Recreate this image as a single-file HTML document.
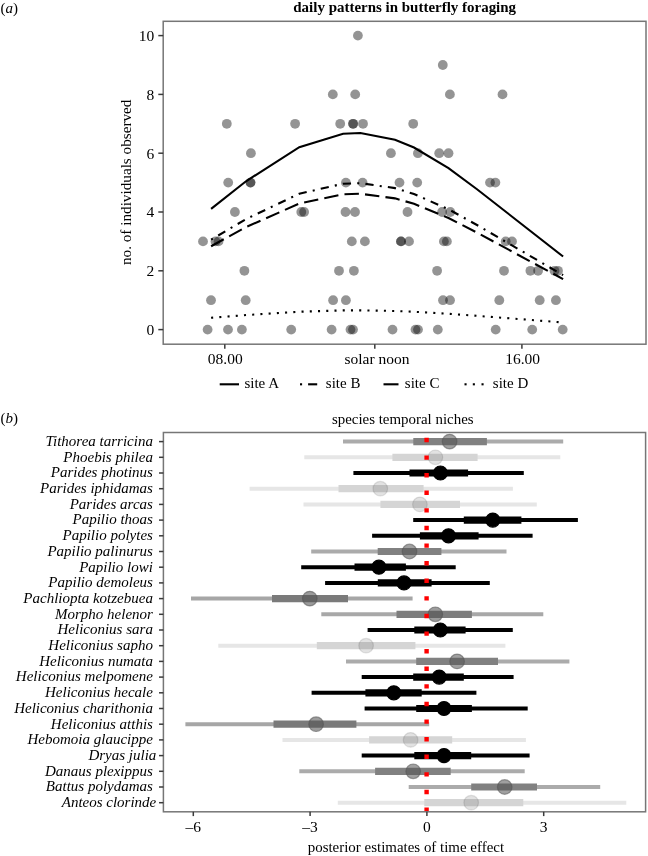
<!DOCTYPE html>
<html><head><meta charset="utf-8"><style>
html,body{margin:0;padding:0;background:#fff;}
svg{display:block;will-change:transform;}
text{font-family:"Liberation Serif",serif;}
</style></head><body>
<svg width="648" height="856" viewBox="0 0 648 856">
<rect x="0" y="0" width="648" height="856" fill="#fff"/>
<text x="293.3" y="12" font-family="Liberation Serif, serif" font-size="15" font-weight="bold" textLength="222.8" lengthAdjust="spacingAndGlyphs">daily patterns in butterfly foraging</text>
<text x="0.6" y="12.8" font-family="Liberation Serif, serif" font-size="15">(<tspan font-style="italic">a</tspan>)</text>
<g fill="#000" fill-opacity="0.42">
<circle cx="357.9" cy="35.6" r="4.9"/>
<circle cx="442.8" cy="65.0" r="4.9"/>
<circle cx="332.8" cy="94.4" r="4.9"/>
<circle cx="355.2" cy="94.4" r="4.9"/>
<circle cx="449.9" cy="94.4" r="4.9"/>
<circle cx="502.5" cy="94.4" r="4.9"/>
<circle cx="226.8" cy="123.8" r="4.9"/>
<circle cx="295.1" cy="123.8" r="4.9"/>
<circle cx="340.2" cy="123.8" r="4.9"/>
<circle cx="353.1" cy="123.8" r="4.9"/>
<circle cx="353.1" cy="123.8" r="4.9"/>
<circle cx="363.0" cy="123.8" r="4.9"/>
<circle cx="413.2" cy="123.8" r="4.9"/>
<circle cx="250.9" cy="153.2" r="4.9"/>
<circle cx="390.9" cy="153.2" r="4.9"/>
<circle cx="417.9" cy="153.2" r="4.9"/>
<circle cx="439.2" cy="153.2" r="4.9"/>
<circle cx="448.5" cy="153.2" r="4.9"/>
<circle cx="228.2" cy="182.6" r="4.9"/>
<circle cx="250.5" cy="182.6" r="4.9"/>
<circle cx="250.5" cy="182.6" r="4.9"/>
<circle cx="345.9" cy="182.6" r="4.9"/>
<circle cx="362.6" cy="182.6" r="4.9"/>
<circle cx="399.5" cy="182.6" r="4.9"/>
<circle cx="417.2" cy="182.6" r="4.9"/>
<circle cx="490.0" cy="182.6" r="4.9"/>
<circle cx="495.4" cy="182.6" r="4.9"/>
<circle cx="234.9" cy="212.0" r="4.9"/>
<circle cx="301.3" cy="212.0" r="4.9"/>
<circle cx="304.1" cy="212.0" r="4.9"/>
<circle cx="345.5" cy="212.0" r="4.9"/>
<circle cx="355.0" cy="212.0" r="4.9"/>
<circle cx="407.5" cy="212.0" r="4.9"/>
<circle cx="442.1" cy="212.0" r="4.9"/>
<circle cx="450.3" cy="212.0" r="4.9"/>
<circle cx="203.0" cy="241.4" r="4.9"/>
<circle cx="215.5" cy="241.4" r="4.9"/>
<circle cx="218.5" cy="241.4" r="4.9"/>
<circle cx="351.8" cy="241.4" r="4.9"/>
<circle cx="364.9" cy="241.4" r="4.9"/>
<circle cx="401.0" cy="241.4" r="4.9"/>
<circle cx="401.0" cy="241.4" r="4.9"/>
<circle cx="409.0" cy="241.4" r="4.9"/>
<circle cx="443.9" cy="241.4" r="4.9"/>
<circle cx="446.9" cy="241.4" r="4.9"/>
<circle cx="505.7" cy="241.4" r="4.9"/>
<circle cx="512.0" cy="241.4" r="4.9"/>
<circle cx="244.4" cy="270.8" r="4.9"/>
<circle cx="339.0" cy="270.8" r="4.9"/>
<circle cx="353.9" cy="270.8" r="4.9"/>
<circle cx="437.1" cy="270.8" r="4.9"/>
<circle cx="504.0" cy="270.8" r="4.9"/>
<circle cx="530.4" cy="270.8" r="4.9"/>
<circle cx="538.1" cy="270.8" r="4.9"/>
<circle cx="554.5" cy="270.8" r="4.9"/>
<circle cx="558.0" cy="270.8" r="4.9"/>
<circle cx="211.0" cy="300.2" r="4.9"/>
<circle cx="245.7" cy="300.2" r="4.9"/>
<circle cx="333.1" cy="300.2" r="4.9"/>
<circle cx="345.9" cy="300.2" r="4.9"/>
<circle cx="443.0" cy="300.2" r="4.9"/>
<circle cx="450.0" cy="300.2" r="4.9"/>
<circle cx="499.3" cy="300.2" r="4.9"/>
<circle cx="539.7" cy="300.2" r="4.9"/>
<circle cx="555.9" cy="300.2" r="4.9"/>
<circle cx="207.6" cy="329.6" r="4.9"/>
<circle cx="228.0" cy="329.6" r="4.9"/>
<circle cx="241.9" cy="329.6" r="4.9"/>
<circle cx="291.2" cy="329.6" r="4.9"/>
<circle cx="331.6" cy="329.6" r="4.9"/>
<circle cx="350.5" cy="329.6" r="4.9"/>
<circle cx="353.0" cy="329.6" r="4.9"/>
<circle cx="392.5" cy="329.6" r="4.9"/>
<circle cx="415.5" cy="329.6" r="4.9"/>
<circle cx="418.0" cy="329.6" r="4.9"/>
<circle cx="437.8" cy="329.6" r="4.9"/>
<circle cx="495.7" cy="329.6" r="4.9"/>
<circle cx="532.2" cy="329.6" r="4.9"/>
<circle cx="562.7" cy="329.6" r="4.9"/>
</g>
<g fill="none" stroke="#000" stroke-width="2.1">
<polyline points="211.10,208.92 246.00,181.25 299.30,147.23 343.10,133.77 360.40,133.05 395.00,139.66 414.00,147.54 448.50,168.08 477.00,189.24 563.10,256.51"/>
<polyline points="211.10,239.69 246.00,219.08 299.30,193.73 343.10,183.70 360.40,183.17 395.00,188.10 414.00,193.97 448.50,209.26 477.00,225.03 563.10,275.15" stroke-dasharray="2.06 6.18 8.24 6.18"/>
<polyline points="211.10,246.21 246.00,227.09 299.30,203.58 343.10,194.28 360.40,193.78 395.00,198.35 414.00,203.80 448.50,217.99 477.00,232.61 563.10,279.10" stroke-dasharray="14.42 6.18"/>
<polyline points="211.10,317.77 246.00,315.06 299.30,311.73 343.10,310.41 360.40,310.34 395.00,310.99 414.00,311.76 448.50,313.77 477.00,315.84 563.10,322.44" stroke-dasharray="2.06 6.18"/>
</g>
<rect x="163.2" y="21.3" width="482.8" height="322.9" fill="none" stroke="#767676" stroke-width="1.5"/>
<line x1="158.3" y1="329.6" x2="163.2" y2="329.6" stroke="#3a3a3a" stroke-width="1.5"/>
<text x="154.3" y="334.9" font-family="Liberation Serif, serif" font-size="15.5" text-anchor="end">0</text>
<line x1="158.3" y1="270.8" x2="163.2" y2="270.8" stroke="#3a3a3a" stroke-width="1.5"/>
<text x="154.3" y="276.1" font-family="Liberation Serif, serif" font-size="15.5" text-anchor="end">2</text>
<line x1="158.3" y1="212.0" x2="163.2" y2="212.0" stroke="#3a3a3a" stroke-width="1.5"/>
<text x="154.3" y="217.3" font-family="Liberation Serif, serif" font-size="15.5" text-anchor="end">4</text>
<line x1="158.3" y1="153.2" x2="163.2" y2="153.2" stroke="#3a3a3a" stroke-width="1.5"/>
<text x="154.3" y="158.5" font-family="Liberation Serif, serif" font-size="15.5" text-anchor="end">6</text>
<line x1="158.3" y1="94.4" x2="163.2" y2="94.4" stroke="#3a3a3a" stroke-width="1.5"/>
<text x="154.3" y="99.7" font-family="Liberation Serif, serif" font-size="15.5" text-anchor="end">8</text>
<line x1="158.3" y1="35.6" x2="163.2" y2="35.6" stroke="#3a3a3a" stroke-width="1.5"/>
<text x="154.3" y="40.9" font-family="Liberation Serif, serif" font-size="15.5" text-anchor="end">10</text>
<line x1="224.8" y1="344.2" x2="224.8" y2="348.7" stroke="#3a3a3a" stroke-width="1.5"/>
<line x1="374.8" y1="344.2" x2="374.8" y2="348.7" stroke="#3a3a3a" stroke-width="1.5"/>
<line x1="521.9" y1="344.2" x2="521.9" y2="348.7" stroke="#3a3a3a" stroke-width="1.5"/>
<text x="225.2" y="364.3" font-family="Liberation Serif, serif" font-size="15.5" text-anchor="middle">08.00</text>
<text x="377.0" y="364.3" font-family="Liberation Serif, serif" font-size="15.5" text-anchor="middle">solar noon</text>
<text x="522.6" y="364.3" font-family="Liberation Serif, serif" font-size="15.5" text-anchor="middle">16.00</text>
<text transform="translate(131.3,182.3) rotate(-90)" x="0" y="0" font-family="Liberation Serif, serif" font-size="15" text-anchor="middle" textLength="165.5" lengthAdjust="spacingAndGlyphs">no. of individuals observed</text>
<g stroke="#000" stroke-width="2.1">
<line x1="219.7" y1="384.3" x2="239" y2="384.3"/>
<line x1="300" y1="384.3" x2="302.1" y2="384.3"/><line x1="308.1" y1="384.3" x2="317.2" y2="384.3"/>
<line x1="383.5" y1="384.3" x2="398.5" y2="384.3"/>
<line x1="464.5" y1="384.3" x2="466.6" y2="384.3"/>
<line x1="472.8" y1="384.3" x2="474.90000000000003" y2="384.3"/>
<line x1="481.5" y1="384.3" x2="483.6" y2="384.3"/>
</g>
<text x="244.4" y="388" font-family="Liberation Serif, serif" font-size="15">site A</text>
<text x="325.8" y="388" font-family="Liberation Serif, serif" font-size="15">site B</text>
<text x="404.8" y="388" font-family="Liberation Serif, serif" font-size="15">site C</text>
<text x="492.8" y="388" font-family="Liberation Serif, serif" font-size="15">site D</text>
<text x="0.6" y="423.0" font-family="Liberation Serif, serif" font-size="15">(<tspan font-style="italic">b</tspan>)</text>
<text x="331.9" y="423.5" font-family="Liberation Serif, serif" font-size="15" textLength="141.7" lengthAdjust="spacingAndGlyphs">species temporal niches</text>
<line x1="343" y1="441.60" x2="563.2" y2="441.60" stroke="#ababab" stroke-width="4.0"/>
<line x1="413.3" y1="441.60" x2="486.9" y2="441.60" stroke="#818181" stroke-width="7.2"/>
<circle cx="449.6" cy="441.60" r="7.3" fill="#555" fill-opacity="0.56" stroke="#555" stroke-opacity="0.56" stroke-width="1.2"/>
<line x1="304.3" y1="457.30" x2="560.3" y2="457.30" stroke="#e6e6e6" stroke-width="4.0"/>
<line x1="392.4" y1="457.30" x2="477.6" y2="457.30" stroke="#d5d5d5" stroke-width="7.2"/>
<circle cx="435.4" cy="457.30" r="7.3" fill="#555" fill-opacity="0.17" stroke="#555" stroke-opacity="0.17" stroke-width="1.2"/>
<line x1="353.4" y1="473.00" x2="523.8" y2="473.00" stroke="#000" stroke-width="4.0"/>
<line x1="409.5" y1="473.00" x2="468.1" y2="473.00" stroke="#000" stroke-width="7.2"/>
<circle cx="440.4" cy="473.00" r="7.0" fill="#000" fill-opacity="1.00" stroke="#000" stroke-opacity="1.00" stroke-width="1.2"/>
<line x1="249.6" y1="488.70" x2="512.9" y2="488.70" stroke="#e6e6e6" stroke-width="4.0"/>
<line x1="338.5" y1="488.70" x2="423.6" y2="488.70" stroke="#d5d5d5" stroke-width="7.2"/>
<circle cx="380.3" cy="488.70" r="7.3" fill="#555" fill-opacity="0.17" stroke="#555" stroke-opacity="0.17" stroke-width="1.2"/>
<line x1="303.5" y1="504.40" x2="536.8" y2="504.40" stroke="#e6e6e6" stroke-width="4.0"/>
<line x1="380.4" y1="504.40" x2="460" y2="504.40" stroke="#d5d5d5" stroke-width="7.2"/>
<circle cx="419.9" cy="504.40" r="7.3" fill="#555" fill-opacity="0.17" stroke="#555" stroke-opacity="0.17" stroke-width="1.2"/>
<line x1="413.2" y1="520.10" x2="577.9" y2="520.10" stroke="#000" stroke-width="4.0"/>
<line x1="463.8" y1="520.10" x2="521.4" y2="520.10" stroke="#000" stroke-width="7.2"/>
<circle cx="492.8" cy="520.10" r="7.0" fill="#000" fill-opacity="1.00" stroke="#000" stroke-opacity="1.00" stroke-width="1.2"/>
<line x1="372.1" y1="535.80" x2="532.6" y2="535.80" stroke="#000" stroke-width="4.0"/>
<line x1="419.9" y1="535.80" x2="478.6" y2="535.80" stroke="#000" stroke-width="7.2"/>
<circle cx="448.5" cy="535.80" r="7.0" fill="#000" fill-opacity="1.00" stroke="#000" stroke-opacity="1.00" stroke-width="1.2"/>
<line x1="311.2" y1="551.50" x2="506.5" y2="551.50" stroke="#ababab" stroke-width="4.0"/>
<line x1="377.7" y1="551.50" x2="441.4" y2="551.50" stroke="#818181" stroke-width="7.2"/>
<circle cx="409.5" cy="551.50" r="7.3" fill="#555" fill-opacity="0.56" stroke="#555" stroke-opacity="0.56" stroke-width="1.2"/>
<line x1="301.2" y1="567.20" x2="455.7" y2="567.20" stroke="#000" stroke-width="4.0"/>
<line x1="354.5" y1="567.20" x2="405.9" y2="567.20" stroke="#000" stroke-width="7.2"/>
<circle cx="378.9" cy="567.20" r="7.0" fill="#000" fill-opacity="1.00" stroke="#000" stroke-opacity="1.00" stroke-width="1.2"/>
<line x1="325.1" y1="582.90" x2="489.8" y2="582.90" stroke="#000" stroke-width="4.0"/>
<line x1="377.8" y1="582.90" x2="431.6" y2="582.90" stroke="#000" stroke-width="7.2"/>
<circle cx="404.0" cy="582.90" r="7.0" fill="#000" fill-opacity="1.00" stroke="#000" stroke-opacity="1.00" stroke-width="1.2"/>
<line x1="191" y1="598.60" x2="412.6" y2="598.60" stroke="#a6a6a6" stroke-width="4.0"/>
<line x1="272" y1="598.60" x2="348" y2="598.60" stroke="#7a7a7a" stroke-width="7.2"/>
<circle cx="309.8" cy="598.60" r="7.3" fill="#555" fill-opacity="0.59" stroke="#555" stroke-opacity="0.59" stroke-width="1.2"/>
<line x1="321.3" y1="614.30" x2="543.3" y2="614.30" stroke="#a8a8a8" stroke-width="4.0"/>
<line x1="396.5" y1="614.30" x2="471.9" y2="614.30" stroke="#7d7d7d" stroke-width="7.2"/>
<circle cx="435.3" cy="614.30" r="7.3" fill="#555" fill-opacity="0.58" stroke="#555" stroke-opacity="0.58" stroke-width="1.2"/>
<line x1="367.6" y1="630.00" x2="512.8" y2="630.00" stroke="#000" stroke-width="4.0"/>
<line x1="414.3" y1="630.00" x2="465.6" y2="630.00" stroke="#000" stroke-width="7.2"/>
<circle cx="440.3" cy="630.00" r="7.0" fill="#000" fill-opacity="1.00" stroke="#000" stroke-opacity="1.00" stroke-width="1.2"/>
<line x1="218.3" y1="645.70" x2="505.4" y2="645.70" stroke="#e6e6e6" stroke-width="4.0"/>
<line x1="316.8" y1="645.70" x2="415.4" y2="645.70" stroke="#d5d5d5" stroke-width="7.2"/>
<circle cx="366.1" cy="645.70" r="7.3" fill="#555" fill-opacity="0.17" stroke="#555" stroke-opacity="0.17" stroke-width="1.2"/>
<line x1="346" y1="661.40" x2="569.4" y2="661.40" stroke="#ababab" stroke-width="4.0"/>
<line x1="416.2" y1="661.40" x2="498" y2="661.40" stroke="#818181" stroke-width="7.2"/>
<circle cx="457.1" cy="661.40" r="7.3" fill="#555" fill-opacity="0.56" stroke="#555" stroke-opacity="0.56" stroke-width="1.2"/>
<line x1="361.7" y1="677.10" x2="513.6" y2="677.10" stroke="#000" stroke-width="4.0"/>
<line x1="413.2" y1="677.10" x2="463.8" y2="677.10" stroke="#000" stroke-width="7.2"/>
<circle cx="439.2" cy="677.10" r="7.0" fill="#000" fill-opacity="1.00" stroke="#000" stroke-opacity="1.00" stroke-width="1.2"/>
<line x1="311.6" y1="692.80" x2="476.4" y2="692.80" stroke="#000" stroke-width="4.0"/>
<line x1="365.4" y1="692.80" x2="421.7" y2="692.80" stroke="#000" stroke-width="7.2"/>
<circle cx="393.8" cy="692.80" r="7.0" fill="#000" fill-opacity="1.00" stroke="#000" stroke-opacity="1.00" stroke-width="1.2"/>
<line x1="364.6" y1="708.50" x2="527.7" y2="708.50" stroke="#000" stroke-width="4.0"/>
<line x1="416.2" y1="708.50" x2="471.9" y2="708.50" stroke="#000" stroke-width="7.2"/>
<circle cx="444" cy="708.50" r="7.0" fill="#000" fill-opacity="1.00" stroke="#000" stroke-opacity="1.00" stroke-width="1.2"/>
<line x1="185.4" y1="724.20" x2="429.2" y2="724.20" stroke="#a6a6a6" stroke-width="4.0"/>
<line x1="273.5" y1="724.20" x2="356.4" y2="724.20" stroke="#7a7a7a" stroke-width="7.2"/>
<circle cx="316.1" cy="724.20" r="7.3" fill="#555" fill-opacity="0.59" stroke="#555" stroke-opacity="0.59" stroke-width="1.2"/>
<line x1="282.5" y1="739.90" x2="525.9" y2="739.90" stroke="#e6e6e6" stroke-width="4.0"/>
<line x1="369.1" y1="739.90" x2="452.2" y2="739.90" stroke="#d5d5d5" stroke-width="7.2"/>
<circle cx="410.6" cy="739.90" r="7.3" fill="#555" fill-opacity="0.17" stroke="#555" stroke-opacity="0.17" stroke-width="1.2"/>
<line x1="361.7" y1="755.60" x2="529.6" y2="755.60" stroke="#000" stroke-width="4.0"/>
<line x1="414.3" y1="755.60" x2="471.2" y2="755.60" stroke="#000" stroke-width="7.2"/>
<circle cx="444" cy="755.60" r="7.0" fill="#000" fill-opacity="1.00" stroke="#000" stroke-opacity="1.00" stroke-width="1.2"/>
<line x1="299.3" y1="771.30" x2="524.7" y2="771.30" stroke="#ababab" stroke-width="4.0"/>
<line x1="375.1" y1="771.30" x2="450.7" y2="771.30" stroke="#818181" stroke-width="7.2"/>
<circle cx="413.2" cy="771.30" r="7.3" fill="#555" fill-opacity="0.56" stroke="#555" stroke-opacity="0.56" stroke-width="1.2"/>
<line x1="408.7" y1="787.00" x2="600.2" y2="787.00" stroke="#ababab" stroke-width="4.0"/>
<line x1="471.2" y1="787.00" x2="537" y2="787.00" stroke="#818181" stroke-width="7.2"/>
<circle cx="504.7" cy="787.00" r="7.3" fill="#555" fill-opacity="0.56" stroke="#555" stroke-opacity="0.56" stroke-width="1.2"/>
<line x1="337.8" y1="802.70" x2="626.3" y2="802.70" stroke="#e6e6e6" stroke-width="4.0"/>
<line x1="424.3" y1="802.70" x2="523.3" y2="802.70" stroke="#d5d5d5" stroke-width="7.2"/>
<circle cx="471.2" cy="802.70" r="7.3" fill="#555" fill-opacity="0.17" stroke="#555" stroke-opacity="0.17" stroke-width="1.2"/>
<line x1="426.6" y1="811.8" x2="426.6" y2="432.5" stroke="#f00" stroke-width="4.4" stroke-dasharray="4.4 13.2"/>
<rect x="163.4" y="432.5" width="482.2" height="379.3" fill="none" stroke="#767676" stroke-width="1.5"/>
<line x1="159" y1="441.60" x2="163.4" y2="441.60" stroke="#3a3a3a" stroke-width="1.5"/>
<text x="152.9" y="445.90" font-family="Liberation Serif, serif" font-size="15" font-style="italic" text-anchor="end">Tithorea tarricina</text>
<line x1="159" y1="457.30" x2="163.4" y2="457.30" stroke="#3a3a3a" stroke-width="1.5"/>
<text x="152.9" y="461.60" font-family="Liberation Serif, serif" font-size="15" font-style="italic" text-anchor="end">Phoebis philea</text>
<line x1="159" y1="473.00" x2="163.4" y2="473.00" stroke="#3a3a3a" stroke-width="1.5"/>
<text x="152.9" y="477.30" font-family="Liberation Serif, serif" font-size="15" font-style="italic" text-anchor="end">Parides photinus</text>
<line x1="159" y1="488.70" x2="163.4" y2="488.70" stroke="#3a3a3a" stroke-width="1.5"/>
<text x="152.9" y="493.00" font-family="Liberation Serif, serif" font-size="15" font-style="italic" text-anchor="end">Parides iphidamas</text>
<line x1="159" y1="504.40" x2="163.4" y2="504.40" stroke="#3a3a3a" stroke-width="1.5"/>
<text x="152.9" y="508.70" font-family="Liberation Serif, serif" font-size="15" font-style="italic" text-anchor="end">Parides arcas</text>
<line x1="159" y1="520.10" x2="163.4" y2="520.10" stroke="#3a3a3a" stroke-width="1.5"/>
<text x="152.9" y="524.40" font-family="Liberation Serif, serif" font-size="15" font-style="italic" text-anchor="end">Papilio thoas</text>
<line x1="159" y1="535.80" x2="163.4" y2="535.80" stroke="#3a3a3a" stroke-width="1.5"/>
<text x="152.9" y="540.10" font-family="Liberation Serif, serif" font-size="15" font-style="italic" text-anchor="end">Papilio polytes</text>
<line x1="159" y1="551.50" x2="163.4" y2="551.50" stroke="#3a3a3a" stroke-width="1.5"/>
<text x="152.9" y="555.80" font-family="Liberation Serif, serif" font-size="15" font-style="italic" text-anchor="end">Papilio palinurus</text>
<line x1="159" y1="567.20" x2="163.4" y2="567.20" stroke="#3a3a3a" stroke-width="1.5"/>
<text x="152.9" y="571.50" font-family="Liberation Serif, serif" font-size="15" font-style="italic" text-anchor="end">Papilio lowi</text>
<line x1="159" y1="582.90" x2="163.4" y2="582.90" stroke="#3a3a3a" stroke-width="1.5"/>
<text x="152.9" y="587.20" font-family="Liberation Serif, serif" font-size="15" font-style="italic" text-anchor="end">Papilio demoleus</text>
<line x1="159" y1="598.60" x2="163.4" y2="598.60" stroke="#3a3a3a" stroke-width="1.5"/>
<text x="152.9" y="602.90" font-family="Liberation Serif, serif" font-size="15" font-style="italic" text-anchor="end">Pachliopta kotzebuea</text>
<line x1="159" y1="614.30" x2="163.4" y2="614.30" stroke="#3a3a3a" stroke-width="1.5"/>
<text x="152.9" y="618.60" font-family="Liberation Serif, serif" font-size="15" font-style="italic" text-anchor="end">Morpho helenor</text>
<line x1="159" y1="630.00" x2="163.4" y2="630.00" stroke="#3a3a3a" stroke-width="1.5"/>
<text x="152.9" y="634.30" font-family="Liberation Serif, serif" font-size="15" font-style="italic" text-anchor="end">Heliconius sara</text>
<line x1="159" y1="645.70" x2="163.4" y2="645.70" stroke="#3a3a3a" stroke-width="1.5"/>
<text x="152.9" y="650.00" font-family="Liberation Serif, serif" font-size="15" font-style="italic" text-anchor="end">Heliconius sapho</text>
<line x1="159" y1="661.40" x2="163.4" y2="661.40" stroke="#3a3a3a" stroke-width="1.5"/>
<text x="152.9" y="665.70" font-family="Liberation Serif, serif" font-size="15" font-style="italic" text-anchor="end">Heliconius numata</text>
<line x1="159" y1="677.10" x2="163.4" y2="677.10" stroke="#3a3a3a" stroke-width="1.5"/>
<text x="152.9" y="681.40" font-family="Liberation Serif, serif" font-size="15" font-style="italic" text-anchor="end">Heliconius melpomene</text>
<line x1="159" y1="692.80" x2="163.4" y2="692.80" stroke="#3a3a3a" stroke-width="1.5"/>
<text x="152.9" y="697.10" font-family="Liberation Serif, serif" font-size="15" font-style="italic" text-anchor="end">Heliconius hecale</text>
<line x1="159" y1="708.50" x2="163.4" y2="708.50" stroke="#3a3a3a" stroke-width="1.5"/>
<text x="152.9" y="712.80" font-family="Liberation Serif, serif" font-size="15" font-style="italic" text-anchor="end">Heliconius charithonia</text>
<line x1="159" y1="724.20" x2="163.4" y2="724.20" stroke="#3a3a3a" stroke-width="1.5"/>
<text x="152.9" y="728.50" font-family="Liberation Serif, serif" font-size="15" font-style="italic" text-anchor="end">Heliconius atthis</text>
<line x1="159" y1="739.90" x2="163.4" y2="739.90" stroke="#3a3a3a" stroke-width="1.5"/>
<text x="152.9" y="744.20" font-family="Liberation Serif, serif" font-size="15" font-style="italic" text-anchor="end">Hebomoia glaucippe</text>
<line x1="159" y1="755.60" x2="163.4" y2="755.60" stroke="#3a3a3a" stroke-width="1.5"/>
<text x="156.3" y="759.90" font-family="Liberation Serif, serif" font-size="15" font-style="italic" text-anchor="end">Dryas julia</text>
<line x1="159" y1="771.30" x2="163.4" y2="771.30" stroke="#3a3a3a" stroke-width="1.5"/>
<text x="152.9" y="775.60" font-family="Liberation Serif, serif" font-size="15" font-style="italic" text-anchor="end">Danaus plexippus</text>
<line x1="159" y1="787.00" x2="163.4" y2="787.00" stroke="#3a3a3a" stroke-width="1.5"/>
<text x="152.9" y="791.30" font-family="Liberation Serif, serif" font-size="15" font-style="italic" text-anchor="end">Battus polydamas</text>
<line x1="159" y1="802.70" x2="163.4" y2="802.70" stroke="#3a3a3a" stroke-width="1.5"/>
<text x="156.3" y="807.00" font-family="Liberation Serif, serif" font-size="15" font-style="italic" text-anchor="end">Anteos clorinde</text>
<line x1="193.3" y1="811.8" x2="193.3" y2="816.1" stroke="#3a3a3a" stroke-width="1.5"/>
<text x="193.3" y="831.8" font-family="Liberation Serif, serif" font-size="15.5" text-anchor="middle">–6</text>
<line x1="310.1" y1="811.8" x2="310.1" y2="816.1" stroke="#3a3a3a" stroke-width="1.5"/>
<text x="310.1" y="831.8" font-family="Liberation Serif, serif" font-size="15.5" text-anchor="middle">–3</text>
<line x1="426.9" y1="811.8" x2="426.9" y2="816.1" stroke="#3a3a3a" stroke-width="1.5"/>
<text x="426.9" y="831.8" font-family="Liberation Serif, serif" font-size="15.5" text-anchor="middle">0</text>
<line x1="543.7" y1="811.8" x2="543.7" y2="816.1" stroke="#3a3a3a" stroke-width="1.5"/>
<text x="543.7" y="831.8" font-family="Liberation Serif, serif" font-size="15.5" text-anchor="middle">3</text>
<text x="307.7" y="852.2" font-family="Liberation Serif, serif" font-size="15" textLength="196.4" lengthAdjust="spacingAndGlyphs">posterior estimates of time effect</text>
</svg>
</body></html>
